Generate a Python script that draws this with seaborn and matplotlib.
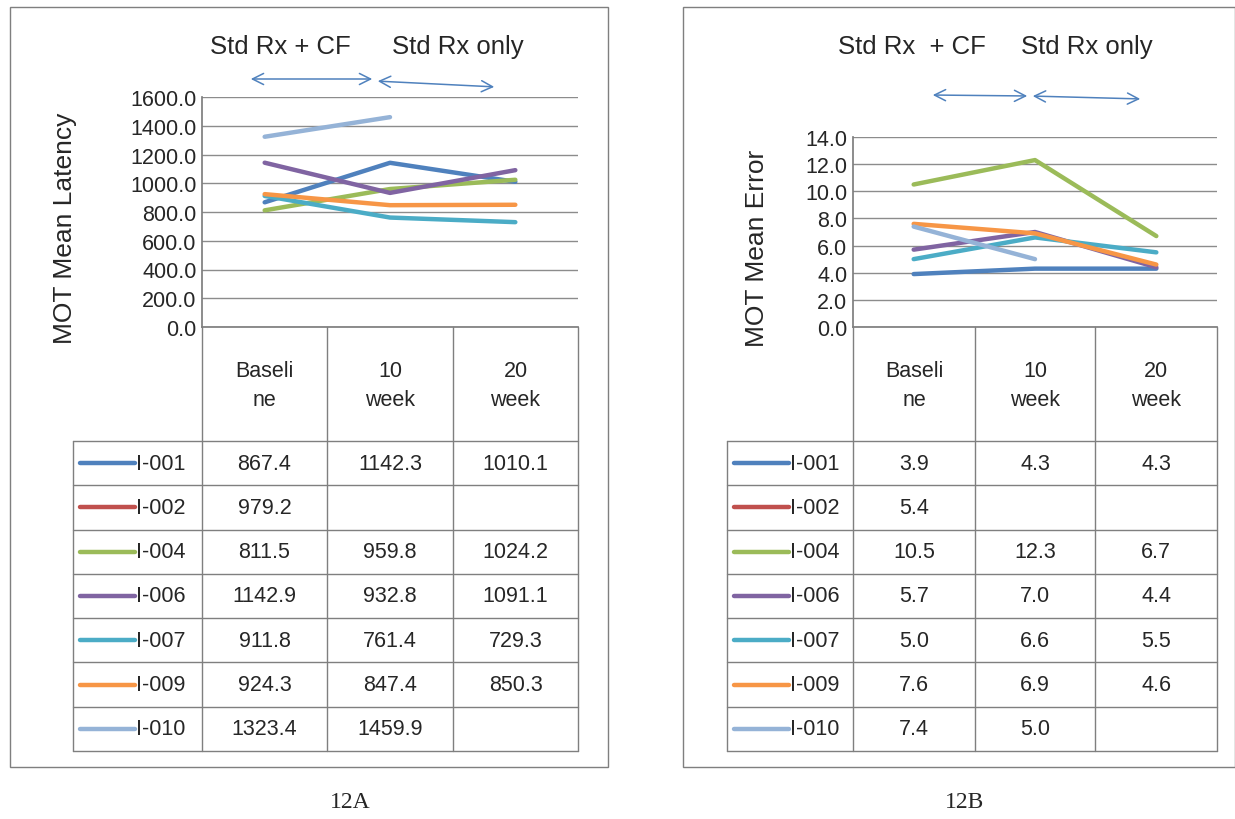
import matplotlib
matplotlib.use("Agg")
import matplotlib.pyplot as plt
import seaborn as sns
import pandas as pd
import numpy as np
from matplotlib.lines import Line2D
from matplotlib.patches import Rectangle

sns.set_theme(style="white")
plt.rcParams['font.family'] = ['Liberation Sans', 'DejaVu Sans']

W, H = 1235, 820
subjects = ["I-001", "I-002", "I-004", "I-006", "I-007", "I-009", "I-010"]
colors = ["#4F81BD", "#C0504D", "#9BBB59", "#8064A2", "#4BACC6", "#F79646", "#95B3D7"]
periods = ["Baseli\nne", "10\nweek", "20\nweek"]
latency = [[867.4, 1142.3, 1010.1], [979.2, None, None], [811.5, 959.8, 1024.2],
           [1142.9, 932.8, 1091.1], [911.8, 761.4, 729.3], [924.3, 847.4, 850.3],
           [1323.4, 1459.9, None]]
error = [[3.9, 4.3, 4.3], [5.4, None, None], [10.5, 12.3, 6.7],
         [5.7, 7.0, 4.4], [5.0, 6.6, 5.5], [7.6, 6.9, 4.6],
         [7.4, 5.0, None]]

fig = plt.figure(figsize=(W / 100, H / 100), dpi=100)


def fx(x):
    return x / W


def fy(y):
    return 1 - y / H


def fline(x0, y0, x1, y1, color="#7f7f7f", lw=1.0):
    fig.add_artist(Line2D([fx(x0), fx(x1)], [fy(y0), fy(y1)], color=color, lw=lw))


def panel(frame, plot, cols, legx, values, ymax, ystep, ylabel, ylab_x, fmt,
          titles, arrows, caption):
    fl, ft, fr, fb = frame
    fig.add_artist(Rectangle((fx(fl), fy(fb)), fx(fr) - fx(fl), fy(ft) - fy(fb),
                             fill=False, ec="#7f7f7f", lw=1.0))
    pl, pt, pr, pb = plot
    ax = fig.add_axes([fx(pl), fy(pb), fx(pr) - fx(pl), fy(pt) - fy(pb)])
    rows = []
    for s, vals in zip(subjects, values):
        for i, v in enumerate(vals):
            if v is not None:
                rows.append({"subject": s, "x": i, "value": v})
    df = pd.DataFrame(rows)
    sns.lineplot(data=df, x="x", y="value", hue="subject", hue_order=subjects,
                 palette=colors, lw=3.2, legend=False, ax=ax)
    ax.set_xlim(-0.5, 2.5)
    ax.set_ylim(0, ymax)
    ticks = np.arange(0, ymax + ystep / 2, ystep)
    ax.set_yticks(ticks)
    ax.set_yticklabels([f"{t:.1f}" for t in ticks], fontsize=15.5)
    ax.tick_params(axis="y", length=0, pad=4)
    ax.set_xticks([])
    ax.set_xlabel("")
    ax.set_ylabel("")
    ax.grid(axis="y", color="#8c8c8c", lw=1.0)
    for sp in ["top", "right"]:
        ax.spines[sp].set_visible(False)
    ax.spines["left"].set_color("#7f7f7f")
    ax.spines["bottom"].set_color("#7f7f7f")
    fig.text(fx(ylab_x), fy((pt + pb) / 2 + 15), ylabel, rotation=90, fontsize=19,
             ha="center", va="center")
    # table
    tb = 752
    rh = (tb - 442) / 7
    for c in cols:
        fline(c, pb, c, tb)
    fline(legx[0], 442, legx[0], tb)
    for k in range(8):
        y = 442 + k * rh
        fline(legx[0], y, cols[-1], y)
    for i, p in enumerate(periods):
        fig.text(fx((cols[i] + cols[i + 1]) / 2), fy(386), p, ha="center", va="center",
                 fontsize=15.5, linespacing=1.45)
    for r, (s, col, vals) in enumerate(zip(subjects, colors, values)):
        yc = 442 + (r + 0.5) * rh
        fline(legx[0] + 7, yc, legx[0] + 62, yc, color=col, lw=3.2)
        fig.text(fx(legx[0] + 63), fy(yc), s, ha="left", va="center", fontsize=15.5)
        for i, v in enumerate(vals):
            if v is not None:
                fig.text(fx((cols[i] + cols[i + 1]) / 2), fy(yc), fmt.format(v),
                         ha="center", va="center", fontsize=15.5)
    for t, x in titles:
        fig.text(fx(x), fy(47), t, ha="center", va="center", fontsize=18.5)
    for (x0, y0, x1, y1) in arrows:
        fig.add_artist(matplotlib.patches.FancyArrowPatch(
            (fx(x0), fy(y0)), (fx(x1), fy(y1)), transform=fig.transFigure,
            arrowstyle="<->", mutation_scale=20, color="#4F81BD", lw=1.1))
    fig.text(fx(caption[1]), fy(803), caption[0], ha="center", va="center",
             fontsize=17, family="Liberation Serif")


panel((10, 8, 608, 768), (202, 98, 578, 328), [202, 327, 453, 578], [73],
      latency, 1600, 200, "MOT Mean Latency", 65, "{:.1f}",
      [("Std Rx + CF", 280), ("Std Rx only", 458)],
      [(248, 80, 375, 80), (375, 82, 497, 88)], ("12A", 350))
panel((683, 8, 1235, 768), (853, 138, 1217, 328), [853, 975, 1095, 1217], [727],
      error, 14, 2, "MOT Mean Error", 757, "{:.1f}",
      [("Std Rx  + CF", 912), ("Std Rx only", 1087)],
      [(930, 96, 1030, 97), (1030, 97, 1143, 100)], ("12B", 965))

fig.savefig("out.png", dpi=100)
